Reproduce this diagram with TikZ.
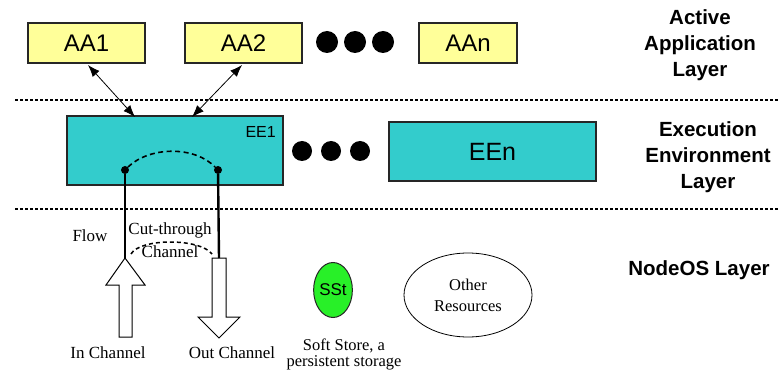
\documentclass[tikz,border=0pt]{standalone}
\usepackage{fontspec}
\setmainfont{Liberation Serif}
\setsansfont{Liberation Sans}
\usetikzlibrary{arrows.meta,calc,shapes.geometric}
\definecolor{aayellow}{RGB}{255,255,153}
\definecolor{eecyan}{RGB}{51,204,204}
\definecolor{sstgreen}{RGB}{40,240,40}
\begin{document}
\begin{tikzpicture}[x=1pt,y=-1pt,
  aabox/.style={draw=black!85,line width=1.2pt,fill=aayellow,minimum width=117pt,minimum height=40pt,inner sep=0pt,font=\sffamily\fontsize{24}{24}\selectfont},
  eebox/.style={draw=black!85,line width=1.2pt,fill=eecyan,inner sep=0pt,font=\sffamily\fontsize{25}{25}\selectfont},
  layerlabel/.style={align=center,font=\sffamily\bfseries\fontsize{20.5}{26}\selectfont},
  serifnote/.style={font=\rmfamily\fontsize{17}{17}\selectfont,inner sep=0pt},
  bigdot/.style={circle,fill=black,minimum size=22pt,inner sep=0pt},
  joint/.style={circle,fill=black,minimum size=8pt,inner sep=0pt},
  layerline/.style={line width=1.1pt,dash pattern=on 2.5pt off 2.5pt},
  apiarrow/.style={line width=0.8pt,{Latex[length=12pt,width=9pt]}-{Latex[length=12pt,width=9pt]}},
  hollow/.style={draw=black,line width=1pt,fill=white}
]
\useasboundingbox (0,0) rectangle (778,371);

% layer separators
\draw[layerline] (15,100) -- (778,100);
\draw[layerline] (15,209) -- (778,209);

% active application layer
\node[aabox] (aa1) at (86.5,43) {AA1};
\node[aabox] (aa2) at (243.5,43) {AA2};
\node[aabox,minimum width=98pt] (aan) at (468,43) {AAn};
\node[bigdot] (d1) at (327,42) {};
\node[bigdot] (d2) at (355,42) {};
\node[bigdot] (d3) at (383,42) {};
\node[layerlabel] (lab1) at (700,45) {Active\\Application\\Layer};

% execution environment layer
\node[eebox,minimum width=216pt,minimum height=69pt] (ee1) at (175,150.5) {};
\node[font=\sffamily\fontsize{16}{16}\selectfont,anchor=east,inner sep=0pt] (ee1lab) at (276,132) {EE1};
\node[eebox,minimum width=207pt,minimum height=59pt] (een) at (492.5,151.5) {EEn};
\node[bigdot,minimum size=20pt] (m1) at (302,151) {};
\node[bigdot,minimum size=20pt] (m2) at (331,151) {};
\node[bigdot,minimum size=20pt] (m3) at (360,151) {};
\node[layerlabel] (lab2) at (708,157) {Execution\\Environment\\Layer};

% application <-> environment interfaces
\coordinate (aa1p) at (88,65);
\coordinate (ee1p) at (135,117);
\coordinate (aa2p) at (242,65);
\coordinate (ee1q) at (192,117);
\draw[apiarrow] (aa1p) -- (ee1p);
\draw[apiarrow] (aa2p) -- (ee1q);

% channel end points inside EE1
\node[joint] (jin) at (125,170) {};
\node[joint] (jout) at (218,170) {};
\draw[line width=1.6pt,dash pattern=on 5pt off 3.5pt] (jin.north east) .. controls (150,146) and (195,146) .. (jout.north west);

% hollow channel arrows
\coordinate (intip) at (125,258);
\coordinate (outtop) at (219,258);
\draw[hollow] (intip) -- (145,285) -- (132,285) -- (132,337) -- (119,337) -- (119,285) -- (106,285) -- cycle;
\draw[hollow] (212,258) -- (226,258) -- (226,317) -- (240,317) -- (219,338) -- (198,317) -- (212,317) -- cycle;
\draw[line width=2.4pt] (jin) -- (intip);
\draw[line width=2.4pt] (jout) -- (outtop);

% channel labels
\node[serifnote] (flow) at (90,236) {Flow};
\node[serifnote] (cut) at (170,230) {Cut-through};
\node[serifnote] (chan) at (170,252) {Channel};
\draw[line width=1.5pt,dash pattern=on 4pt off 3pt] (131,254) .. controls (140,238) and (200,238) .. (212,254);
\node[serifnote] (inlab) at (108,353) {In Channel};
\node[serifnote] (outlab) at (232,353) {Out Channel};

% NodeOS resources
\node[ellipse,draw=black!85,line width=1pt,fill=sstgreen,minimum width=37pt,minimum height=55pt,inner sep=0pt,font=\sffamily\fontsize{17}{17}\selectfont] (sst) at (333,290) {SSt};
\node[serifnote,align=center,font=\rmfamily\fontsize{16.5}{16}\selectfont] (sstlab) at (344,354) {Soft Store, a\\persistent storage};
\node[ellipse,draw=black,line width=0.8pt,minimum width=128pt,minimum height=84pt,inner sep=0pt,align=center,font=\rmfamily\fontsize{16.5}{21}\selectfont] (other) at (468,295) {Other\\Resources};
\node[layerlabel] (lab3) at (699,270) {NodeOS Layer};
\end{tikzpicture}
\end{document}
